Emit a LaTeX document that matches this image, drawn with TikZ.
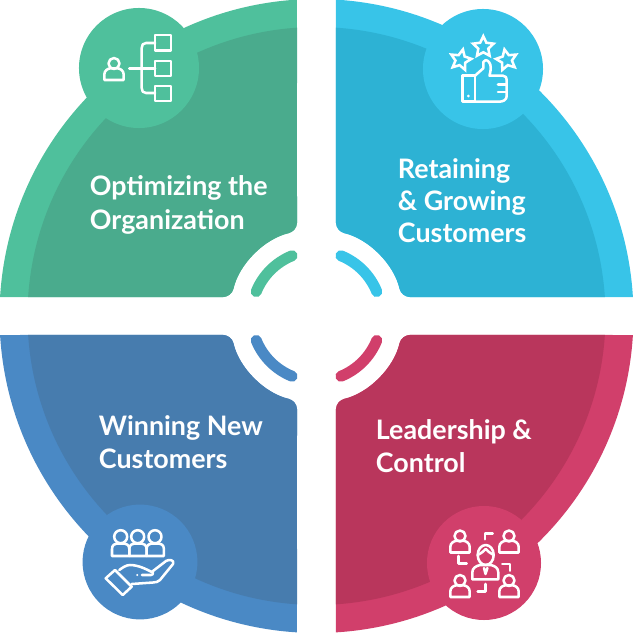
\documentclass[tikz,border=0pt]{standalone}
\usepackage{fontspec}
\setmainfont{Lato}
\usetikzlibrary{shapes.geometric}
\definecolor{greenlite}{HTML}{4FC09C}
\definecolor{greendark}{HTML}{4AAB8D}
\definecolor{cyanlite}{HTML}{38C4E8}
\definecolor{cyandark}{HTML}{2DB2D4}
\definecolor{bluelite}{HTML}{4A89C5}
\definecolor{bluedark}{HTML}{477CAE}
\definecolor{redlite}{HTML}{D13F6B}
\definecolor{reddark}{HTML}{B9365C}
\tikzset{
  badge/.style={circle,minimum size=3cm,inner sep=0pt},
  quartertext/.style={anchor=west,align=left,text=white,font=\fontsize{19.1}{23.6}\selectfont\bfseries},
  icon/.style={draw=white,line width=1.8pt,line cap=round,line join=round},
  starico/.style={star,star points=5,star point ratio=2.05,draw=white,line width=1.8pt,inner sep=0pt,minimum size=.54cm},
  innerarc/.style={line width=7.8pt,line cap=round},
}
% one quarter, drawn for the upper right
\newcommand{\quarterfill}[2]{%
  \fill[#1] ({90-asin(19.5/#2)}:#2) arc[start angle={90-asin(19.5/#2)},end angle={asin(19/#2)},radius=#2]
    [rounded corners=6pt] -- (12.6:87) arc[start angle=12.6,end angle=77.05,radius=87] -- (19.5,150) [sharp corners] -- cycle;}
\newcommand{\personico}[2]{%
  \draw[icon] (#1,#2) circle (5.5);
  \draw[icon] (#1-9.7,#2+16.5) -- (#1-9.7,#2+11) .. controls (#1-9.7,#2+7) and (#1-6,#2+5) .. (#1-3.5,#2+4.8)
    -- (#1+3.5,#2+4.8) .. controls (#1+6,#2+5) and (#1+9.7,#2+7) .. (#1+9.7,#2+11) -- (#1+9.7,#2+16.5) -- cycle;}
\begin{document}
\begin{tikzpicture}[x=.025cm,y=.025cm]
\useasboundingbox (-316.5,-318) rectangle (317.5,316);
% quarters
\begin{scope}[xscale=-1]
\quarterfill{greenlite}{317}
\quarterfill{greendark}{289}
\end{scope}
\begin{scope}
\quarterfill{cyanlite}{317}
\quarterfill{cyandark}{289}
\end{scope}
\begin{scope}[xscale=-1,yscale=-1]
\quarterfill{bluelite}{317}
\quarterfill{bluedark}{289}
\end{scope}
\begin{scope}[yscale=-1]
\quarterfill{redlite}{317}
\quarterfill{reddark}{289}
\end{scope}
% inner arcs
\draw[greenlite,innerarc] (112:65) arc[start angle=112,end angle=158,radius=65];
\draw[cyanlite,innerarc] (68:65) arc[start angle=68,end angle=22,radius=65];
\draw[bluelite,innerarc] (202:65) arc[start angle=202,end angle=248,radius=65];
\draw[redlite,innerarc] (292:65) arc[start angle=292,end angle=338,radius=65];
% everything below in pixels of the page
\begin{scope}[shift={(-316.5,316)},yscale=-1]
\node[badge,fill=greenlite] (orgBadge) at (139,68) {};
\node[badge,fill=cyanlite] (retainBadge) at (483,69) {};
\node[badge,fill=bluelite,minimum size=2.87cm] (winBadge) at (140,562) {};
\node[badge,fill=redlite,minimum size=2.85cm] (leadBadge) at (484,563) {};
\node[quartertext] (orgText) at (85,205) {Optimizing the\\Organization};
\node[quartertext,font=\fontsize{19.1}{22.8}\selectfont\bfseries] (retainText) at (393,201) {Retaining\\\& Growing\\Customers};
\node[quartertext] (winText) at (94,442.5) {Winning New\\Customers};
\node[quartertext] (leadText) at (371,446.5) {Leadership \&\\Control};
% organization icon
\personico{114}{63.5}
\draw[icon] (129.3,68.3) -- (155,68.3);
\draw[icon] (155,43) -- (146,43) .. controls (143,43) and (141.7,45) .. (141.7,48) -- (141.7,88) .. controls (141.7,91) and (143,93) .. (146,93) -- (155,93);
\draw[icon] (155,35) rectangle (171,50.7);
\draw[icon] (155,61) rectangle (171,76);
\draw[icon] (155,86) rectangle (171,101);
% thumbs-up icon
\node[starico] (midStar) at (483.3,47) {};
\node[starico,rotate=-12] (leftStar) at (460.7,60) {};
\node[starico,rotate=12] (rightStar) at (506.7,60) {};
\draw[icon] (462.3,75.7) rectangle (475,101.7);
\fill[white] (468.3,96) circle (1.5);
\draw[icon] (475,75.7) -- (483.3,68.3) -- (483.3,62) .. controls (484,59.5) and (487,59.5) .. (489,62) .. controls (491.5,65) and (491,70) .. (489.5,75.7) -- (503,75.7)
  .. controls (506,75.7) and (506.7,78) .. (506.7,80) -- (506.7,96) .. controls (506.7,100) and (503,101.7) .. (499,101.7) -- (475,101.7);
\draw[icon] (498,84.5) -- (506.7,84.5) (498,92) -- (506.7,92);
% customers icon
\foreach \hx in {120.7,137.7,155}{\draw[icon] (\hx,536.7) circle (6.5);}
\foreach \bx in {112,129.3,146.6}{\draw[icon] (\bx,556) -- (\bx,549) .. controls (\bx,545) and (\bx+3,543.5) .. (\bx+5,543.5) -- (\bx+12.3,543.5) .. controls (\bx+14.3,543.5) and (\bx+17.3,545) .. (\bx+17.3,549) -- (\bx+17.3,556) -- cycle;}
\draw[icon] (105.7,578.3) -- (115,570) -- (131.7,586.7) -- (122.7,595) -- cycle;
\draw[icon] (119.3,570) .. controls (122,568) and (126,565) .. (130,565) .. controls (138,565) and (146,569) .. (151.7,572) -- (166,561) .. controls (169,559) and (175,560) .. (173,564)
  -- (160,580) .. controls (158,582) and (156,582.3) .. (153,582.5) -- (131.7,584);
\draw[icon] (142,575) -- (151,575) .. controls (152.5,575) and (153,574) .. (153,572.5);
\fill[white] (137.3,575) circle (1.2);
% leadership icon
\personico{460}{536}
\personico{509}{536}
\personico{460}{580.5}
\personico{509}{580.5}
\draw[icon] (485.7,555) ellipse (8 and 10);
\draw[icon] (477.7,555) .. controls (481.5,553) and (484,551) .. (485.7,549) .. controls (487.5,551) and (490,553) .. (493.7,555);
\draw[icon] (472.3,579.3) -- (472.3,572.5) .. controls (472.3,568) and (476,566) .. (480,565) -- (491,565) .. controls (495,566) and (498.3,568) .. (498.3,572.5) -- (498.3,579.3) -- cycle;
\draw[icon] (484,568) -- (485.5,574) -- (487.4,568);
\draw[icon] (485,539.3) -- (485,533.3) -- (492.7,533.3);
\draw[icon] (458.3,556) -- (458.3,563.3) -- (466.7,563.3);
\draw[icon] (502.3,564) -- (510,564) -- (510,570.7);
\draw[icon] (477.7,591.7) -- (485.7,591.7) -- (485.7,584);
\end{scope}
\end{tikzpicture}
\end{document}
